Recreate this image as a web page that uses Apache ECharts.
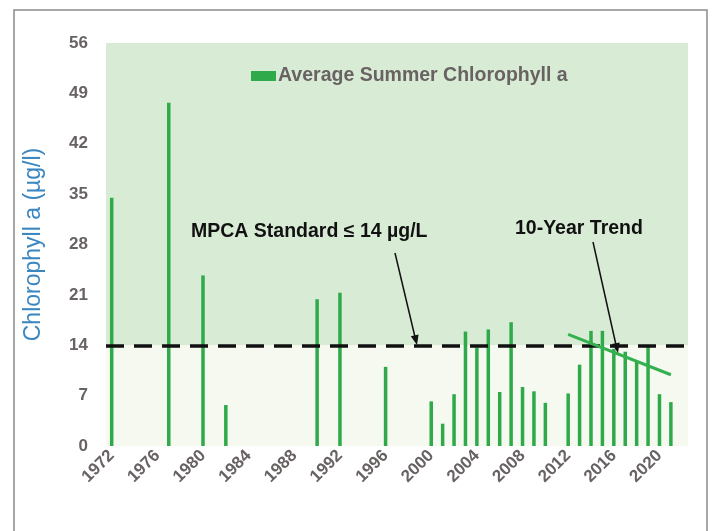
<!DOCTYPE html>
<html>
<head>
<meta charset="utf-8">
<script src="https://cdn.jsdelivr.net/npm/echarts@6/dist/echarts.min.js"></script>
<style>
  html, body { margin: 0; padding: 0; background: #fff; }
  #chart { width: 715px; height: 531px; }
</style>
</head>
<body>
<div id="chart"></div>
<script>
// sampled years and average summer chlorophyll a (ug/l)
var sampleYears = [1972, 1977, 1980, 1982, 1990, 1992, 1996, 2000, 2001, 2002, 2003, 2004, 2005, 2006,
  2007, 2008, 2009, 2010, 2012, 2013, 2014, 2015, 2016, 2017, 2018, 2019, 2020, 2021];
var chlorophyll = [34.5, 47.7, 23.7, 5.7, 20.4, 21.3, 11.0, 6.2, 3.1, 7.2, 15.9, 13.7, 16.2, 7.5,
  17.2, 8.2, 7.6, 6.0, 7.3, 11.3, 16.0, 16.0, 13.5, 13.1, 11.8, 13.8, 7.2, 6.1];
var trendYears = ["2012", "2021"];
var trendValues = [15.5, 9.9];
var standard = 14;
var yTicks = [0, 7, 14, 21, 28, 35, 42, 49, 56];

var firstYear = 1972, lastYear = 2022;
var categories = [];
for (var y = firstYear; y <= lastYear; y++) categories.push(String(y));
var barData = categories.map(function () { return null; });
sampleYears.forEach(function (yr, i) {
  barData[yr - firstYear] = chlorophyll[i];
});

var chart = echarts.init(document.getElementById("chart"));
var font = "'Liberation Sans', Arial, sans-serif";
var gray = "#686262";

chart.setOption({
  animation: false,
  textStyle: { fontFamily: font },
  grid: { left: 106, right: 27, top: 43, bottom: 85 },
  legend: {
    left: 246, top: 61,
    itemWidth: 25, itemHeight: 10, itemGap: 4,
    icon: "rect",
    data: ["Average Summer Chlorophyll a"],
    textStyle: { fontFamily: font, fontSize: 19.5, fontWeight: "bold", color: gray, padding: [0, 0, 0, -3] }
  },
  xAxis: {
    type: "category",
    data: categories,
    boundaryGap: true,
    axisLine: { show: false },
    axisTick: { show: false },
    axisLabel: {
      interval: 3, rotate: 45, margin: 7,
      fontFamily: font, fontSize: 17, fontWeight: "bold", color: gray
    }
  },
  yAxis: {
    type: "value",
    min: yTicks[0], max: yTicks[yTicks.length - 1], interval: 7,
    name: "Chlorophyll a (\u00b5g/l)",
    nameLocation: "middle",
    nameGap: 61,
    nameTextStyle: { fontFamily: font, fontSize: 23, color: "#3a86c0" },
    axisLine: { show: false },
    axisTick: { show: false },
    splitLine: { show: false },
    axisLabel: { margin: 18, fontFamily: font, fontSize: 17, fontWeight: "bold", color: gray }
  },
  series: [
    {
      name: "Average Summer Chlorophyll a",
      type: "bar",
      data: barData,
      barWidth: 3.5,
      itemStyle: { color: "#2eaa4a" },
      markArea: {
        silent: true,
        z: 0,
        data: [
          [{ yAxis: standard, itemStyle: { color: "#d8ecd5" } }, { yAxis: 56 }],
          [{ yAxis: 0, itemStyle: { color: "#f5f9ef" } }, { yAxis: standard }]
        ]
      },
      markLine: {
        silent: true,
        symbol: ["none", "none"],
        label: { show: false },
        lineStyle: { color: "#111", width: 3.5, type: [18, 10] },
        data: [{ yAxis: standard }]
      }
    },
    {
      name: "10-Year Trend",
      type: "line",
      data: trendYears.map(function (yr, i) { return [yr, trendValues[i]]; }),
      showSymbol: false,
      symbol: "none",
      z: 5,
      lineStyle: { color: "#34b04f", width: 3 }
    }
  ],
  graphic: [
    { type: "rect", shape: { x: 14, y: 10, width: 693, height: 540 },
      style: { fill: "none", stroke: "#8a8a8a", lineWidth: 1.5 }, silent: true, z: 100 },
    { type: "text", left: 191, top: 222, z: 100,
      style: { text: "MPCA Standard \u2264 14 \u00b5g/L", font: "bold 19.5px " + font, fill: "#111" } },
    { type: "line", shape: { x1: 395, y1: 253, x2: 415, y2: 337 }, style: { stroke: "#111", lineWidth: 1.5 }, z: 100 },
    { type: "polygon", shape: { points: [[417, 345], [410.8, 336.2], [418.6, 334.4]] }, style: { fill: "#111" }, z: 100 },
    { type: "text", left: 515, top: 219, z: 100,
      style: { text: "10-Year Trend", font: "bold 19.5px " + font, fill: "#111" } },
    { type: "line", shape: { x1: 593, y1: 242, x2: 616, y2: 345 }, style: { stroke: "#111", lineWidth: 1.5 }, z: 100 },
    { type: "polygon", shape: { points: [[618, 353], [611.9, 344.1], [619.7, 342.4]] }, style: { fill: "#111" }, z: 100 }
  ]
});
</script>
</body>
</html>
